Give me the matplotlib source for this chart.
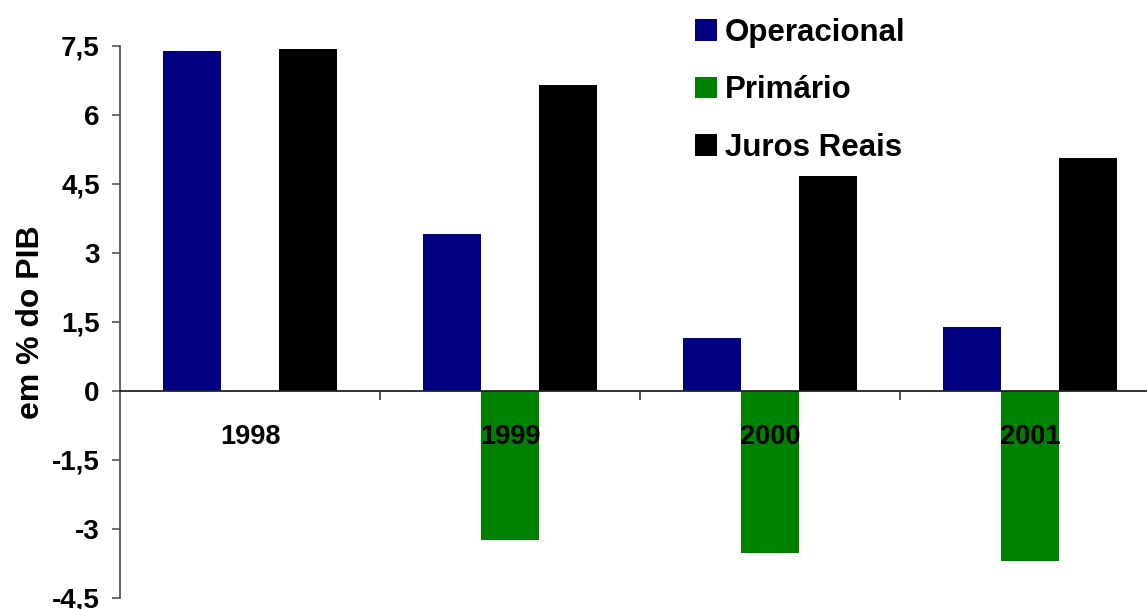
import matplotlib.pyplot as plt
import numpy as np

plt.rcParams['font.family'] = ['Liberation Sans', 'DejaVu Sans']
plt.rcParams['font.weight'] = 'bold'

anos = ['1998', '1999', '2000', '2001']
operacional = [7.39, 3.41, 1.15, 1.39]
primario = [0.0, -3.24, -3.52, -3.70]
juros_reais = [7.43, 6.65, 4.67, 5.07]

y_ticks = [-4.5, -3, -1.5, 0, 1.5, 3, 4.5, 6, 7.5]
y_labels = ['-4,5', '-3', '-1,5', '0', '1,5', '3', '4,5', '6', '7,5']

fig = plt.figure(figsize=(11.47, 6.09), dpi=100)
ax = fig.add_axes([120 / 1147, 11 / 609, 1040 / 1147, 552 / 609])

x = np.arange(len(anos))
w = 0.223
b1 = ax.bar(x - w, operacional, w, color='#000080', label='Operacional')
b2 = ax.bar(x, primario, w, color='#008000', label='Primário')
b3 = ax.bar(x + w, juros_reais, w, color='black', label='Juros Reais')

ax.set_xlim(-0.5, len(anos) - 0.5)
ax.set_ylim(-4.5, 7.5)
ax.set_yticks(y_ticks)
ax.set_yticklabels(y_labels)

# year labels at group centres, tick marks at group boundaries
ax.set_xticks(x)
ax.set_xticklabels(anos)
ax.set_xticks(np.arange(len(anos)) + 0.5, minor=True)
ax.tick_params(axis='x', which='major', length=0, pad=23.5, labelsize=19.5)
ax.tick_params(axis='x', which='minor', length=6.5, width=1.2, color='#333333', direction='out')
ax.tick_params(axis='y', length=5.5, width=1.2, color='#555555', pad=9, labelsize=20)

ax.spines['top'].set_visible(False)
ax.spines['right'].set_visible(False)
ax.spines['bottom'].set_position(('data', 0))
ax.spines['bottom'].set_color('#222222')
ax.spines['bottom'].set_linewidth(1.3)
ax.spines['left'].set_color('#555555')
ax.spines['left'].set_linewidth(1.3)

ax.set_ylabel('em % do PIB', fontsize=23, fontweight='bold', labelpad=4)

leg = ax.legend(handles=[b1, b2, b3], loc='upper left',
                bbox_to_anchor=(673 / 1147, 1.0 + 4 / 609), bbox_transform=fig.transFigure,
                frameon=False, fontsize=22.5, handlelength=0.7, handleheight=0.7,
                handletextpad=0.26, labelspacing=0.88, borderaxespad=0.3)
for t in leg.get_texts():
    t.set_fontweight('bold')

fig.savefig('out.png', dpi=100)
